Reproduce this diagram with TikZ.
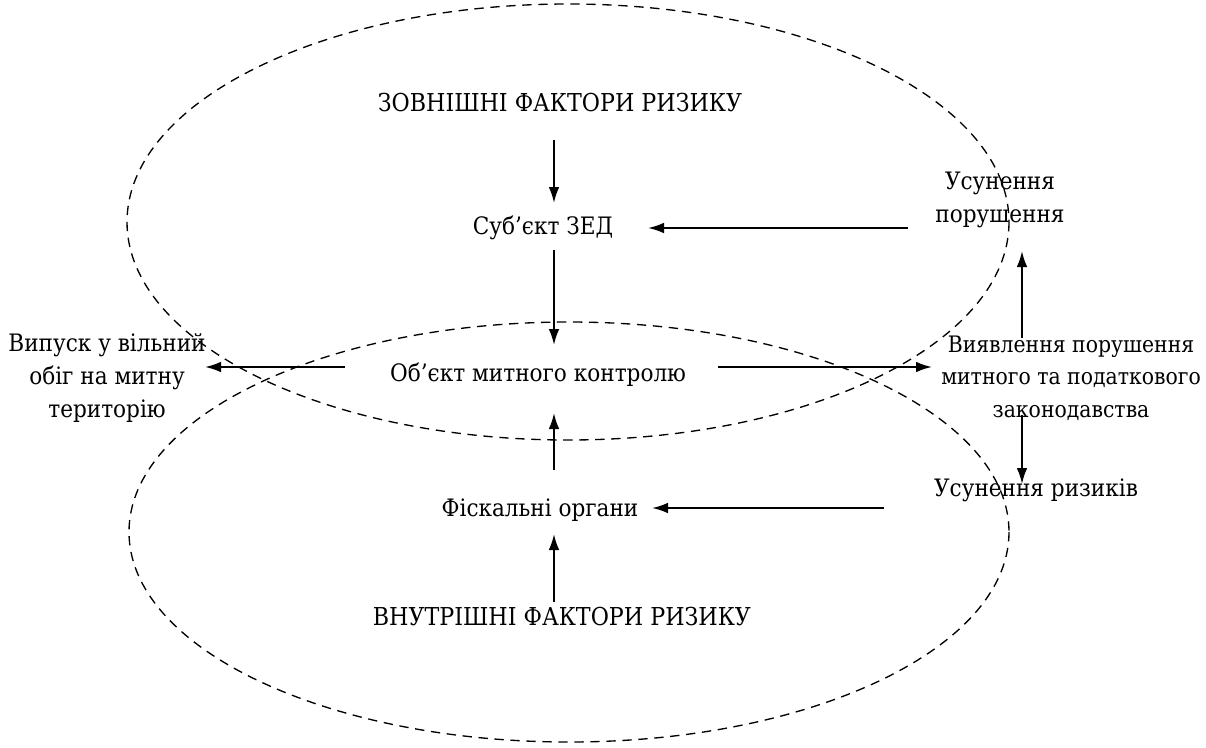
\documentclass[tikz,border=0pt]{standalone}
\usepackage{fontspec}
\setmainfont{DejaVu Serif Condensed}
\usetikzlibrary{arrows.meta}
\begin{document}
\begin{tikzpicture}[x=0.75pt,y=-0.75pt,
  lbl/.style={inner sep=0pt,align=center,font=\fontsize{18}{24.5}\selectfont},
  caps/.style={lbl,font=\fontsize{18.5}{24.5}\selectfont},
  small/.style={lbl,font=\fontsize{17}{24.5}\selectfont},
  arr/.style={line width=1.5pt,-{Latex[length=12pt,width=8pt]}},
  zone/.style={dashed,line width=1pt,dash pattern=on 7pt off 5pt}]
\useasboundingbox (0,0) rectangle (1206,747);
\draw[zone] (568,222) ellipse [x radius=441,y radius=218];
\draw[zone] (569,532) ellipse [x radius=440,y radius=210];
\node[caps] (ext) at (560,103) {ЗОВНІШНІ ФАКТОРИ РИЗИКУ};
\node[lbl] (subj) at (543,228) {Суб’єкт ЗЕД};
\node[lbl] (obj) at (538,375) {Об’єкт митного контролю};
\node[lbl] (rel) at (107,378) {Випуск у вільний\\обіг на митну\\територію};
\node[small] (det) at (1071,378) {Виявлення порушення\\митного та податкового\\законодавства};
\node[lbl] (elim) at (1000,200) {Усунення\\порушення};
\node[lbl] (risk) at (1036,490) {Усунення ризиків};
\node[lbl] (fisc) at (540,510) {Фіскальні органи};
\node[caps] (int) at (562,617) {ВНУТРІШНІ ФАКТОРИ РИЗИКУ};
\coordinate (a1) at (554,140); \coordinate (a2) at (554,203);
\draw[arr] (a1) -- (a2);
\coordinate (b1) at (554,250); \coordinate (b2) at (554,345);
\draw[arr] (b1) -- (b2);
\coordinate (c1) at (345,367); \coordinate (c2) at (205,367);
\draw[arr] (c1) -- (c2);
\coordinate (d1) at (718,367); \coordinate (d2) at (932,367);
\draw[arr] (d1) -- (d2);
\coordinate (e1) at (1022,338); \coordinate (e2) at (1022,251);
\draw[arr] (e1) -- (e2);
\coordinate (f1) at (1022,415); \coordinate (f2) at (1022,484);
\draw[arr] (f1) -- (f2);
\coordinate (g1) at (908,228); \coordinate (g2) at (648,228);
\draw[arr] (g1) -- (g2);
\coordinate (h1) at (884,508); \coordinate (h2) at (652,508);
\draw[arr] (h1) -- (h2);
\coordinate (i1) at (554,470); \coordinate (i2) at (554,413);
\draw[arr] (i1) -- (i2);
\coordinate (j1) at (554,602); \coordinate (j2) at (554,534);
\draw[arr] (j1) -- (j2);
\end{tikzpicture}
\end{document}
